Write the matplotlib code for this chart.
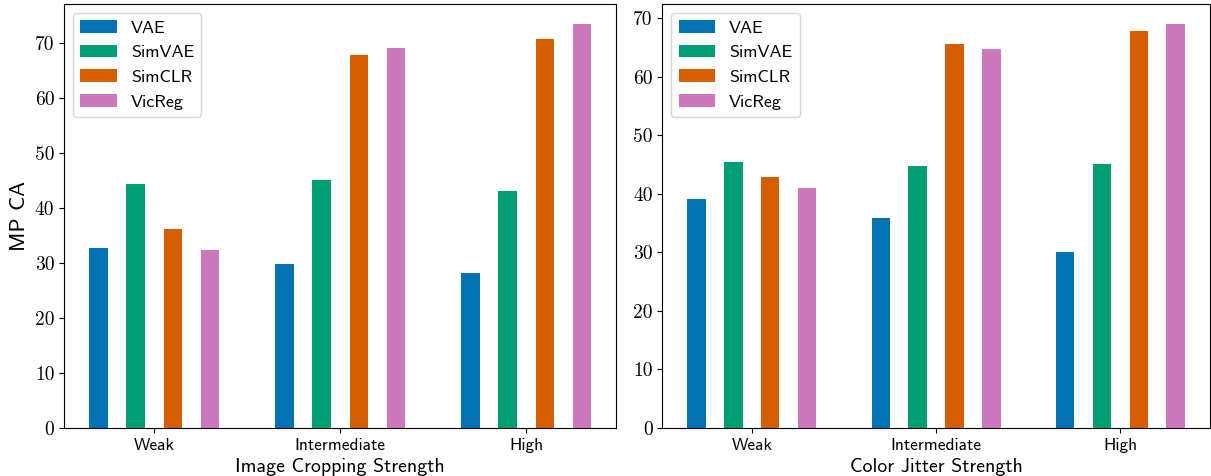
import matplotlib
matplotlib.use("Agg")
import matplotlib.pyplot as plt
import numpy as np

categories = ["Weak", "Intermediate", "High"]
methods = ["VAE", "SimVAE", "SimCLR", "VicReg"]
colors = ["#0173b2", "#029e73", "#d55e00", "#cc78bc"]

crop_vals = {
    "VAE": [32.7, 29.9, 28.2],
    "SimVAE": [44.4, 45.1, 43.2],
    "SimCLR": [36.2, 67.9, 70.7],
    "VicReg": [32.4, 69.1, 73.5],
}
jitter_vals = {
    "VAE": [39.1, 35.9, 30.1],
    "SimVAE": [45.4, 44.7, 45.0],
    "SimCLR": [42.9, 65.5, 67.8],
    "VicReg": [40.9, 64.8, 69.0],
}

SANS = "cmss10"
SERIF = "cmr10"

fig = plt.figure(figsize=(12.11, 4.76), dpi=100)
ax1 = fig.add_axes([0.053, 0.101, 0.456, 0.891])
ax2 = fig.add_axes([0.547, 0.101, 0.452, 0.891])

x = np.arange(len(categories))
width = 0.1
offsets = [-0.3, -0.1, 0.1, 0.3]

for ax, data, xlabel in [(ax1, crop_vals, "Image Cropping Strength"),
                         (ax2, jitter_vals, "Color Jitter Strength")]:
    for m, c, off in zip(methods, colors, offsets):
        ax.bar(x + off, data[m], width, color=c, label=m)
    ax.set_xticks(x)
    ax.set_xticklabels(categories, fontfamily=SANS, fontsize=12.5)
    ax.set_xlabel(xlabel, fontfamily=SANS, fontsize=14.3, labelpad=4)
    ax.legend(loc="upper left", prop={"family": SANS, "size": 13})
    ax.set_yticks(np.arange(0, 71, 10))
    ax.set_yticklabels([str(v) for v in range(0, 71, 10)], fontfamily=SERIF, fontsize=14)

ax1.set_ylabel("MP CA", fontfamily=SANS, fontsize=16)

fig.savefig("out.png", dpi=100)
